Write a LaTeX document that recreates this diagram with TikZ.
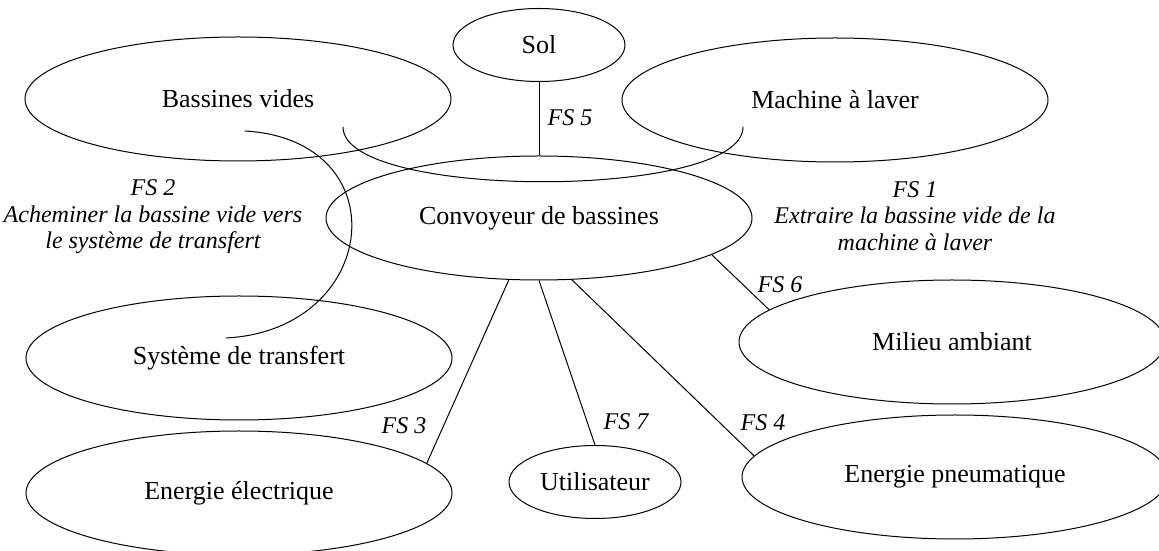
\documentclass[tikz,border=0pt]{standalone}
\usepackage{fontspec}
\setmainfont{Liberation Serif}
\usetikzlibrary{shapes.geometric,calc}
\begin{document}
\begin{tikzpicture}[x=1pt, y=1pt, line width=1pt,
  every node/.style={inner sep=1pt, font=\fontsize{26}{30}\selectfont},
  bigellipse/.style={draw, ellipse, minimum width=426, minimum height=124},
  smallellipse/.style={draw, ellipse, minimum width=172, minimum height=73},
  fslabel/.style={font=\fontsize{24}{26.5}\selectfont\itshape, align=center}]
  \useasboundingbox (0,0) rectangle (1159,551);
  \node[smallellipse] (sol) at (539,506) {Sol};
  \node[bigellipse] (bass) at (238,452) {Bassines vides};
  \node[bigellipse] (mach) at (835,451) {Machine à laver};
  \node[bigellipse] (conv) at (539,333) {Convoyeur de bassines};
  \node[bigellipse] (trans) at (239,193) {Système de transfert};
  \node[bigellipse] (elec) at (239,58) {Energie électrique};
  \node[smallellipse] (user) at (595,69) {Utilisateur};
  \node[bigellipse] (milieu) at (952,209) {Milieu ambiant};
  \node[bigellipse] (pneu) at (955,74) {Energie pneumatique};
  \node[fslabel] (fs5) at (570,433) {FS 5};
  \node[fslabel] (fs6) at (780,266) {FS 6};
  \node[fslabel] (fs3) at (404,125) {FS 3};
  \node[fslabel] (fs7) at (626,129) {FS 7};
  \node[fslabel] (fs4) at (763,128) {FS 4};
  \node[fslabel] (fs2) at (153,334) {FS 2\\Acheminer la bassine vide vers\\le système de transfert};
  \node[fslabel] (fs1) at (915,335) {FS 1\\Extraire la bassine vide de la\\machine à laver};
  \coordinate (fs2a) at ($(bass.center)+(7,-32)$);
  \coordinate (fs2b) at ($(trans.center)+(-13,20)$);
  \coordinate (fs1a) at ($(bass.center)+(105,-28)$);
  \coordinate (fs1b) at ($(mach.center)+(-92,-27)$);
  \draw (sol.south) -- (conv.north);
  \draw (conv.-12.7) -- (milieu.170.8);
  \draw (conv.-62.7) -- (pneu.174.6);
  \draw (conv.-90.5) -- (user.north);
  \draw (conv.-116.6) -- (elec.9.5);
  \draw (fs2a) .. controls (400,411) and (380,221) .. (fs2b);
  \draw (fs1a) .. controls (343,351) and (743,351) .. (fs1b);
\end{tikzpicture}
\end{document}
